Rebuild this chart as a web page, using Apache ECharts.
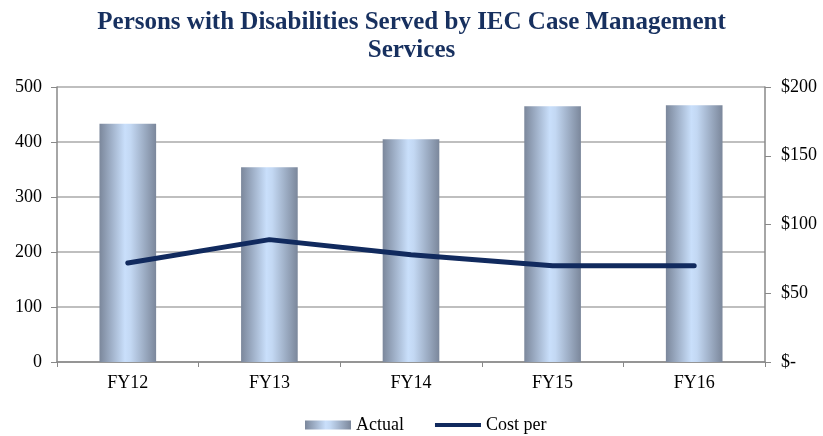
<!DOCTYPE html>
<html>
<head>
<meta charset="utf-8">
<script src="https://cdn.jsdelivr.net/npm/echarts@6/dist/echarts.min.js"></script>
<style>
    html, body { margin: 0; padding: 0; background: #fff; }
    #chart { width: 823px; height: 436px; }
</style>
</head>
<body>
<div id="chart"></div>
<script>
let years = ['FY12', 'FY13', 'FY14', 'FY15', 'FY16']
let actual = [433, 354, 405, 465, 467]
let costPer = [72, 89, 78, 70, 70]
let leftTicks = [0, 100, 200, 300, 400, 500]
let rightTicks = [0, 50, 100, 150, 200]

let serif = '"Liberation Serif", "DejaVu Serif", serif'
let barFill = new echarts.graphic.LinearGradient(0, 0, 1, 0, [
    { offset: 0, color: '#7b879b' },
    { offset: 0.45, color: '#c9dffb' },
    { offset: 0.55, color: '#c3d8f3' },
    { offset: 1, color: '#7b879b' }
])

let myChart = echarts.init(document.getElementById('chart'))
let option = {
    animation: false,
    title: {
        text: 'Persons with Disabilities Served by IEC Case Management\nServices',
        left: 'center',
        top: 4,
        textStyle: {
            fontFamily: serif,
            fontWeight: 'bold',
            fontSize: 25,
            lineHeight: 28,
            color: '#17305f'
        }
    },
    legend: {
        top: 411,
        left: 300,
        itemGap: 31,
        itemWidth: 46,
        itemHeight: 9,
        textStyle: { fontFamily: serif, fontSize: 18, color: '#000' },
        data: [
            { name: 'Actual', icon: 'rect' },
            { name: 'Cost per', icon: 'path://M0,0 H46 V4 H0 Z' }
        ]
    },
    grid: { left: 57, right: 58, top: 87, bottom: 74 },
    xAxis: {
        type: 'category',
        data: years,
        axisLine: { lineStyle: { color: '#888', width: 1.5 } },
        axisTick: { show: true, length: 5, lineStyle: { color: '#888' } },
        axisLabel: { fontFamily: serif, fontSize: 18, color: '#000', margin: 12 }
    },
    yAxis: [
        {
            type: 'value',
            min: leftTicks[0],
            max: leftTicks[leftTicks.length - 1],
            interval: 100,
            axisLine: { show: true, lineStyle: { color: '#888', width: 1.5 } },
            axisTick: { show: true, length: 6, lineStyle: { color: '#888' } },
            axisLabel: { fontFamily: serif, fontSize: 18, color: '#000', margin: 15 },
            splitLine: { lineStyle: { color: '#aaa', width: 1.5 } }
        },
        {
            type: 'value',
            min: rightTicks[0],
            max: rightTicks[rightTicks.length - 1],
            interval: 50,
            axisLine: { show: true, lineStyle: { color: '#888', width: 1.5 } },
            axisTick: { show: true, length: 6, lineStyle: { color: '#888' } },
            axisLabel: {
                fontFamily: serif, fontSize: 18, color: '#000', margin: 16,
                formatter: v => v === 0 ? '$-' : '$' + v
            },
            splitLine: { show: false }
        }
    ],
    series: [
        {
            name: 'Actual',
            type: 'bar',
            data: actual,
            barWidth: '40%',
            itemStyle: { color: barFill }
        },
        {
            name: 'Cost per',
            type: 'line',
            yAxisIndex: 1,
            data: costPer,
            symbol: 'none',
            lineStyle: { color: '#112a5e', width: 5, cap: 'round' },
            itemStyle: { color: '#112a5e' }
        }
    ]
}
myChart.setOption(option)
</script>
</body>
</html>
